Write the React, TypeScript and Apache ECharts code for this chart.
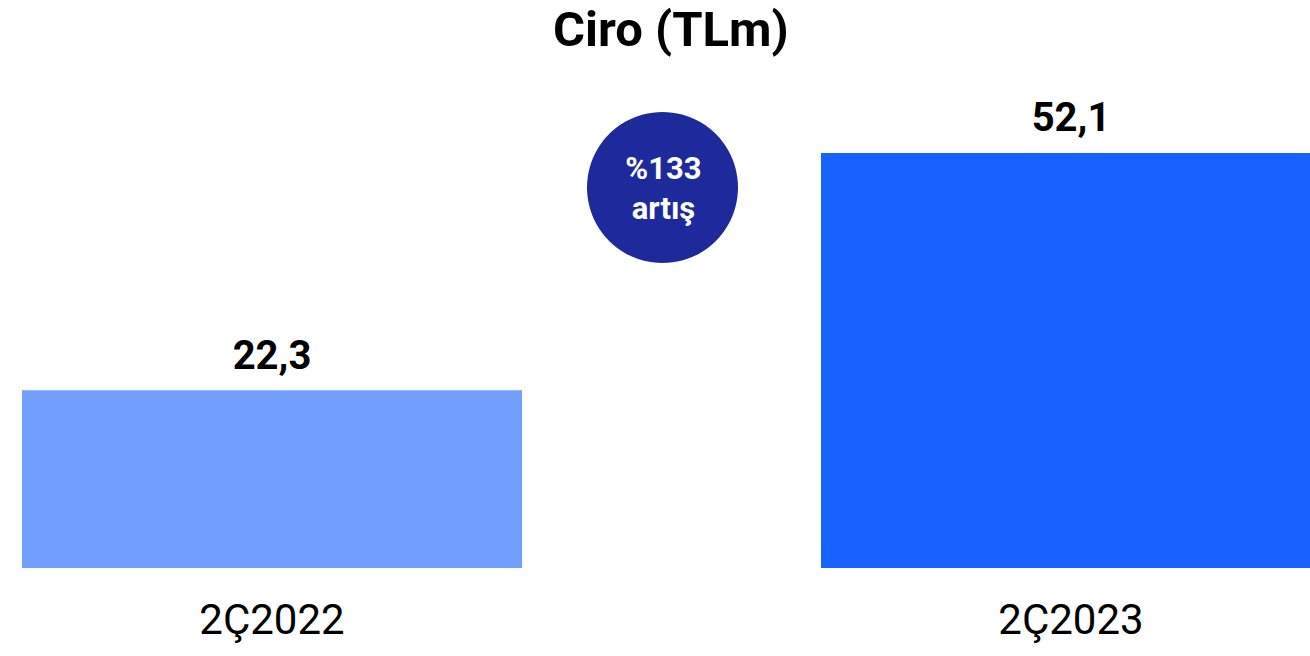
import React, { useEffect, useRef } from "react";
import * as echarts from "echarts";

const categories = ["2Ç2022", "2Ç2023"];
const values = [22.3, 52.1];
const titleText = "Ciro (TLm)";
const badgeLines = ["%133", "artış"];

const barColors = ["#719EFF", "#1862FF"];

export default function App() {
  const ref = useRef<HTMLDivElement>(null);
  useEffect(() => {
    if (!ref.current) return;
    const chart = echarts.init(ref.current, undefined, { renderer: "svg" });
    chart.setOption({
      animation: false,
      textStyle: { fontFamily: "Roboto" },
      title: {
        text: titleText,
        left: 548,
        top: 0,
        textStyle: { fontFamily: "Roboto", fontWeight: "bold", fontSize: 49, color: "#000" },
      },
      grid: {
        left: -127.5,
        right: -160.5,
        top: 90,
        bottom: 88,
        containLabel: false,
        outerBoundsMode: "none",
      },
      xAxis: {
        type: "category",
        data: categories,
        axisLine: { show: false },
        axisTick: { show: false },
        axisLabel: {
          fontFamily: "Roboto",
          fontSize: 42,
          color: "#000",
          margin: 30,
        },
      },
      yAxis: {
        type: "value",
        min: 0,
        max: 60,
        show: false,
        splitLine: { show: false },
      },
      series: [
        {
          type: "bar",
          barWidth: 500,
          data: values.map((v, i) => ({ value: v, itemStyle: { color: barColors[i] } })),
          label: {
            show: true,
            position: "top",
            distance: 15,
            fontFamily: "Roboto",
            fontWeight: "bold",
            fontSize: 40,
            color: "#000",
            formatter: (p: any) => String(p.value).replace(".", ","),
          },
        },
      ],
      graphic: [
        {
          type: "circle",
          shape: { cx: 662.5, cy: 187.5, r: 75.5 },
          style: { fill: "#1E2A9C" },
          z: 10,
        },
        {
          type: "text",
          x: 663.5,
          y: 188,
          z: 11,
          style: {
            text: badgeLines.join("\n"),
            fill: "#fff",
            fontFamily: "Roboto",
            fontWeight: "bold",
            fontSize: 31,
            lineHeight: 40,
            align: "center",
            verticalAlign: "middle",
          },
        },
      ],
    });
    return () => chart.dispose();
  }, []);
  return (
    <div
      ref={ref}
      style={{ position: "absolute", left: 0, top: 0, width: 1310, height: 656 }}
    />
  );
}
